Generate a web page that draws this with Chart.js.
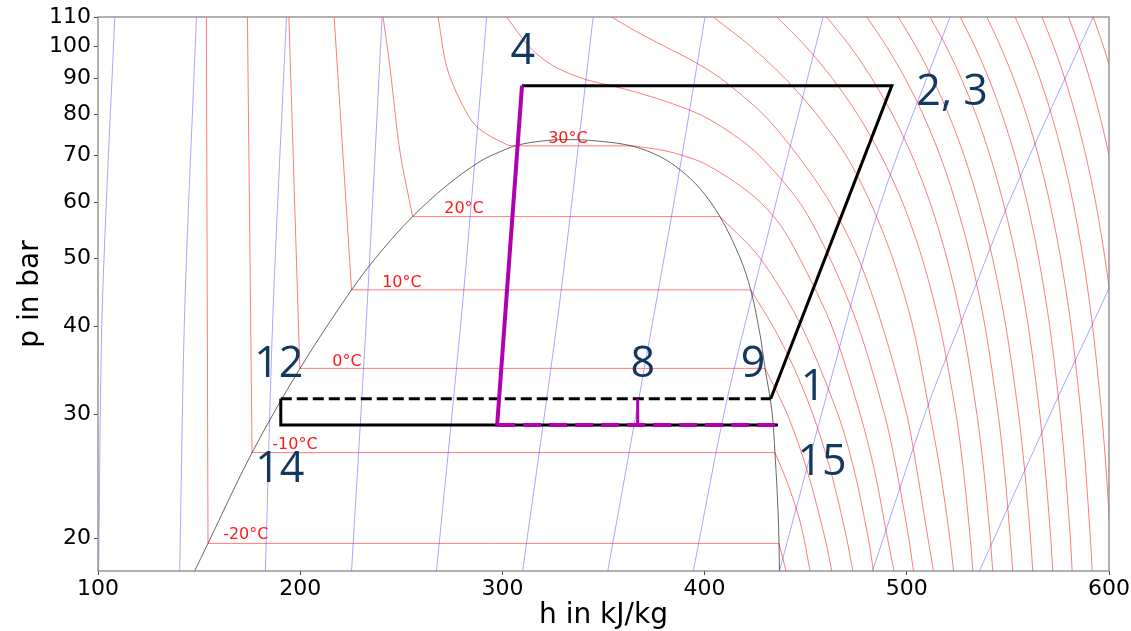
<!DOCTYPE html>
<html>
<head>
<meta charset="utf-8">
<script src="https://cdn.jsdelivr.net/npm/chart.js@4.4.1/dist/chart.umd.min.js"></script>
<style>
html, body { margin: 0; padding: 0; background: #fff; }
</style>
</head>
<body>
<canvas id="c" width="1131" height="631"></canvas>
<script>
// axis ticks
const hTicks = [100, 200, 300, 400, 500, 600];
const pTicks = [20, 30, 40, 50, 60, 70, 80, 90, 100, 110];

// saturation dome [h kJ/kg, p bar]
const dome = [[147.8,18],[154.4,19.7],[176.2,26.5],[199.8,34.85],[225.4,45.1],[239.4,50.9],[255.6,57.3],
  [272.4,63.4],[288.9,68.6],[298.7,70.8],[307.0,72.3],[318.6,73.3],[331.8,73.7],[348.2,73.3],[364.6,72.1],[378.0,69.7],
  [387.8,66.8],[397.7,62.8],[407.6,57.3],[417.5,50.1],[422.8,45.1],[427.4,39.0],[429.9,34.9],[433.2,30.5],
  [434.8,26.5],[436.3,22.0],[436.8,19.7],[437.0,18]];

// isotherms, every 10 °C
const iso_m20 = [[153.6,110],[154.4,19.7],[436.8,19.7],[440.3,18]];
const iso_m10 = [[173.9,110],[176.2,26.5],[434.8,26.5],[441.0,24],[447.5,21],[452.2,18]];
const iso_0   = [[194.4,110],[199.8,34.9],[429.9,34.9],[441.0,30],[450.7,25],[459.6,20],[462.9,18]];
const iso_10  = [[216.8,110],[225.4,45.1],[422.8,45.1],[433.9,40],[444.1,35],[453.6,30],[462.3,25],[470.3,20],[473.3,18]];
const iso_20  = [[241.0,110],[244.3,93.8],[249.3,71],[255.6,57.3],[407.6,57.3],[427.5,50],[448.0,40],[466.0,30],[474.0,25],[481.0,20],[483.5,18]];
const iso_30  = [[268.2,110],[272.4,93.6],[279.0,83.9],[287.2,76.9],[302.1,72.5],[307.0,72.2],[364.6,72.2],[381.0,71],
  [397.7,68.6],[412.0,65],[425.0,61],[437.0,56],[447.0,50],[463.0,40],[477.0,30],[484.0,25],[490.5,20],[493.7,18]];
const iso_40  = [[302.1,110],[313,100],[322,95],[331,92],[341.7,89.6],[360,87],[378,84],[397.7,80],[414,75],[427,70],
  [447,60],[462,50],[476,40],[489,30],[495,25],[501,20],[503.3,18]];
const iso_50  = [[354,110],[366,105],[380,100],[395,95],[408,90],[429,80],[446,70],[462,60],[476,50],[488,40],[500,30],[505,25],[510.5,20],[513.2,18]];
const iso_60  = [[404.3,110],[422.7,100],[439.8,90],[455.5,80],[469.9,70],[482,60],[493,50],[503,40],[511.5,30],[516.5,25],[521.3,20],[523.1,18]];
const iso_70  = [[435.7,110],[449.9,100],[463.2,90],[475.7,80],[487.2,70],[497.9,60],[507.6,50],[516.4,40],[524.4,30],[528.0,25],[531.4,20],[532.7,18]];
const iso_80  = [[460.4,110],[471.9,100],[482.7,90],[492.9,80],[502.5,70],[511.5,60],[519.8,50],[527.6,40],[534.7,30],[538.1,25],[541.3,20],[542.5,18]];
const iso_90  = [[480.2,110],[489.9,100],[499.2,90],[508.0,80],[516.4,70],[524.2,60],[531.7,50],[538.7,40],[545.2,30],[548.3,25],[551.2,20],[552.4,18]];
const iso_100 = [[495.8,110],[504.4,100],[512.7,90],[520.7,80],[528.3,70],[535.5,60],[542.4,50],[549.0,40],[555.3,30],[558.3,25],[561.2,20],[562.3,18]];
const iso_110 = [[511.5,110],[519.4,100],[526.9,90],[534.2,80],[541.1,70],[547.7,60],[554.1,50],[560.1,40],[565.8,30],[568.5,25],[571.2,20],[572.2,18]];
const iso_120 = [[526.4,110],[533.6,100],[540.5,90],[547.1,80],[553.4,70],[559.5,60],[565.2,50],[570.7,40],[575.9,30],[578.4,25],[580.9,20],[581.8,18]];
const iso_130 = [[539.6,110],[546.3,100],[552.8,90],[559.1,80],[565.0,70],[570.7,60],[576.1,50],[581.3,40],[586.2,30],[588.5,25],[590.8,20],[591.7,18]];
const iso_140 = [[553.6,110],[559.8,100],[565.8,90],[571.5,80],[577.0,70],[582.2,60],[587.2,50],[591.9,40],[596.4,30],[598.6,25],[600.7,20],[601.5,18]];
const iso_150 = [[566.8,110],[572.6,100],[578.1,90],[583.4,80],[588.5,70],[593.4,60],[598.0,50],[602.4,40],[606.6,30],[608.6,25]];
const iso_160 = [[580.0,110],[585.3,100],[590.4,90],[595.3,80],[600.0,70],[604.5,60],[608.7,50]];
const iso_170 = [[592.2,110],[597.2,100],[602.0,90],[606.6,80]];

// isentropes
const s_1  = [[100.3,18],[102.1,42.3],[108.3,110]];
const s_2  = [[140.4,18],[142.9,42.3],[148.7,110]];
const s_3  = [[182.8,18],[186.6,42.3],[193.2,110]];
const s_4  = [[225.4,18],[233.0,42.3],[240.5,110]];
const s_5  = [[267.4,18],[280.5,43.7],[292.2,110]];
const s_6  = [[310.0,18],[328.5,43.7],[344.9,110]];
const s_7  = [[352.1,18],[376.3,43.7],[387.8,67.2],[400.2,110]];
const s_8  = [[394.4,18],[411.6,32.0],[435.7,60.6],[458.6,110]];
const s_9  = [[437.0,18],[460.4,32.0],[486.8,59.6],[521.4,110]];
const s_10 = [[483.0,18],[511.5,31.5],[531.3,43.7],[551.1,60.6],[592.2,110]];
const s_11 = [[535.9,18],[574.2,31.5],[599.6,45.1],[620,62]];

// cycle
const cycleTop    = [[309.7,87.9],[492.6,87.9],[432.7,31.6]];
const cycleMid    = [[190.4,31.6],[432.7,31.6]];
const cycleLow    = [[190.4,31.6],[190.4,29.0],[436.3,29.0]];
const throttle    = [[309.7,87.9],[297.4,29.0]];
const mixStep     = [[366.9,29.0],[366.9,31.6]];
const evapPurple  = [[297.4,29.0],[436.3,29.0]];

// annotations
const stateLabels = ['4', '2, 3', '12', '14', '8', '9', '1', '15'];
const stateH = [310.1, 522.4, 189.4, 189.9, 369.4, 423.9, 453.6, 458.1];
const stateP = [99.2, 86.7, 35.66, 25.31, 35.66, 35.66, 33.09, 25.89];
const tempLabels = ['30°C', '20°C', '10°C', '0°C', '-10°C', '-20°C'];
const tempH = [332.4, 281.0, 250.3, 223.1, 197.4, 173.1];
const tempP = [74.4, 59.2, 46.5, 35.9, 27.32, 20.36];

const isotherms = [iso_m20, iso_m10, iso_0, iso_10, iso_20, iso_30, iso_40, iso_50, iso_60, iso_70,
  iso_80, iso_90, iso_100, iso_110, iso_120, iso_130, iso_140, iso_150, iso_160, iso_170];
const isentropes = [s_1, s_2, s_3, s_4, s_5, s_6, s_7, s_8, s_9, s_10, s_11];

const RED = 'rgba(255,0,0,0.52)';
const BLUE = 'rgba(0,0,255,0.35)';
const PURPLE = '#b000b0';

const toXY = pts => pts.map(([x, y]) => ({ x, y }));
const datasets = [];

function line(pts, color, width, order, tension, dash) {
  datasets.push({
    data: toXY(pts),
    borderColor: color,
    borderWidth: width,
    borderDash: dash || [],
    pointRadius: 0,
    fill: false,
    order: order,
    tension: tension
  });
}

// split isotherms at the flat two-phase part
isotherms.forEach(pts => {
  let run = [pts[0]];
  for (let i = 1; i < pts.length; i++) {
    if (pts[i][1] === pts[i - 1][1]) {
      if (run.length > 1) line(run, RED, 1, 4, 0.3);
      line([pts[i - 1], pts[i]], RED, 1, 4, 0);
      run = [pts[i]];
    } else {
      run.push(pts[i]);
    }
  }
  if (run.length > 1) line(run, RED, 1, 4, 0.3);
});
isentropes.forEach(pts => line(pts, BLUE, 1, 5, 0.3));
line(dome, 'rgba(0,0,0,0.6)', 1, 3, 0.35);

line(cycleTop, '#000', 3, 2, 0);
line(cycleMid, '#000', 3, 2, 0, [11, 5]);
line(cycleLow, '#000', 3, 2, 0);
line(throttle, PURPLE, 4, 1, 0);
line(mixStep, PURPLE, 3, 1, 0);
line(evapPurple, PURPLE, 4, 1, 0, [18, 8]);

const overlay = {
  id: 'overlay',
  afterDatasetsDraw(chart) {
    const { ctx, chartArea: a, scales } = chart;
    const xs = scales.x, ys = scales.y;
    ctx.save();
    // frame
    ctx.strokeStyle = '#888';
    ctx.lineWidth = 1.3;
    ctx.strokeRect(a.left, a.top, a.right - a.left, a.bottom - a.top);

    // temperature labels
    ctx.fillStyle = '#ff1a1a';
    ctx.font = '16px "DejaVu Sans"';
    ctx.textAlign = 'center';
    ctx.textBaseline = 'alphabetic';
    tempLabels.forEach((t, i) => {
      ctx.fillText(t, xs.getPixelForValue(tempH[i]), ys.getPixelForValue(tempP[i]) + 6);
    });

    // state point numbers
    ctx.fillStyle = '#11385f';
    ctx.font = '43px "Open Sans"';
    stateLabels.forEach((t, i) => {
      ctx.fillText(t, xs.getPixelForValue(stateH[i]), ys.getPixelForValue(stateP[i]) + 15);
    });

    // axis titles
    ctx.fillStyle = '#000';
    ctx.font = '28px "DejaVu Sans"';
    ctx.fillText('h in kJ/kg', (a.left + a.right) / 2, 623);
    ctx.translate(38, (a.top + a.bottom) / 2);
    ctx.rotate(-Math.PI / 2);
    ctx.fillText('p in bar', 0, 0);
    ctx.restore();
  }
};

new Chart(document.getElementById('c'), {
  type: 'line',
  data: { datasets },
  plugins: [overlay],
  options: {
    responsive: false,
    animation: false,
    events: [],
    layout: { padding: { top: 17, right: 22, left: 0, bottom: 0 } },
    plugins: { legend: { display: false }, tooltip: { enabled: false } },
    scales: {
      x: {
        type: 'linear',
        min: 100,
        max: 600,
        afterBuildTicks: s => { s.ticks = hTicks.map(v => ({ value: v })); },
        afterFit: s => { s.height = 60; },
        ticks: { color: '#000', font: { family: 'DejaVu Sans', size: 22 }, padding: 1, maxRotation: 0, autoSkip: false },
        grid: { drawOnChartArea: false, tickLength: 4, color: '#444' },
        border: { display: false }
      },
      y: {
        type: 'logarithmic',
        min: 18,
        max: 110,
        afterBuildTicks: s => { s.ticks = pTicks.map(v => ({ value: v })); },
        afterFit: s => { s.width = 98; },
        ticks: { color: '#000', font: { family: 'DejaVu Sans', size: 22 }, padding: 3, autoSkip: false, callback: v => String(v) },
        grid: { drawOnChartArea: false, tickLength: 4, color: '#444' },
        border: { display: false }
      }
    }
  }
});
</script>
</body>
</html>
